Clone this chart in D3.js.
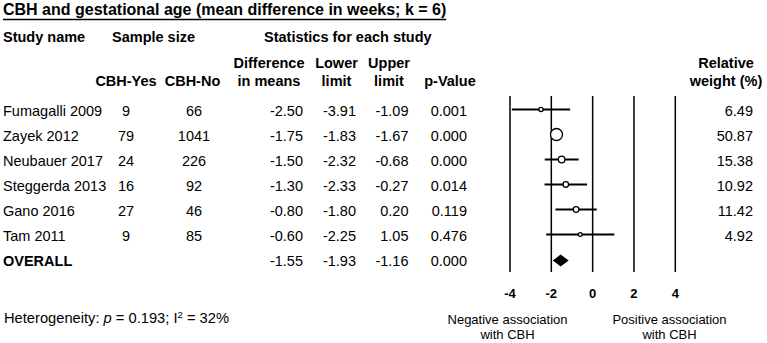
<!DOCTYPE html>
<html>
<head>
<meta charset="utf-8">
<script src="https://cdn.jsdelivr.net/npm/d3@7"></script>
<style>
  body { margin: 0; background: #fff; }
  svg { display: block; font-family: "Liberation Sans", Arial, sans-serif; }
</style>
</head>
<body>
<svg id="chart"></svg>
<script>
const width = 767, height = 343;

// data
const studies = ["Fumagalli 2009", "Zayek 2012", "Neubauer 2017", "Steggerda 2013", "Gano 2016", "Tam 2011"];
const cbhYes = [9, 79, 24, 16, 27, 9];
const cbhNo = [66, 1041, 226, 92, 46, 85];
const diffMeans = [-2.50, -1.75, -1.50, -1.30, -0.80, -0.60];
const lowerLimit = [-3.91, -1.83, -2.32, -2.33, -1.80, -2.25];
const upperLimit = [-1.09, -1.67, -0.68, -0.27, 0.20, 1.05];
const pValues = ["0.001", "0.000", "0.000", "0.014", "0.119", "0.476"];
const relWeight = [6.49, 50.87, 15.38, 10.92, 11.42, 4.92];
const overall = {name: "OVERALL", diff: -1.55, lower: -1.93, upper: -1.16, p: "0.000"};
const axisTicks = [-4, -2, 0, 2, 4];

const rows = studies.map((s, i) => ({
    name: s, yes: cbhYes[i], no: cbhNo[i], diff: diffMeans[i],
    lower: lowerLimit[i], upper: upperLimit[i], p: pValues[i], w: relWeight[i]
}));

const svg = d3.select("#chart")
    .attr("width", width)
    .attr("height", height);

const fs = "14.5px";
const rowY = d3.scaleLinear().domain([0, 1]).range([116, 141]); // baselines
const x = d3.scaleLinear().domain([-4, 4]).range([510, 675.3]);

// column positions
const col = {name: 3, yes: 126, no: 194, diff: 303, lower: 356, upper: 408.5, p: 467, w: 753};

// title
const title = svg.append("text")
    .attr("x", 3).attr("y", 15)
    .attr("font-size", "16px").attr("font-weight", "bold")
    .text("CBH and gestational age (mean difference in weeks; k = 6)");
const tw = title.node().getComputedTextLength();
svg.append("line")
    .attr("x1", 3).attr("x2", 3 + tw)
    .attr("y1", 19.5).attr("y2", 19.5)
    .attr("stroke", "#000").attr("stroke-width", 1.4);

// headers
const hdr = svg.append("g").attr("font-size", fs).attr("font-weight", "bold");
hdr.append("text").attr("x", 3).attr("y", 42).text("Study name");
hdr.append("text").attr("x", 112).attr("y", 42).text("Sample size");
hdr.append("text").attr("x", 264).attr("y", 42).text("Statistics for each study");

const hdr2 = [
    {x: col.yes, l1: "", l2: "CBH-Yes"},
    {x: 192.5, l1: "", l2: "CBH-No"},
    {x: 269, l1: "Difference", l2: "in means"},
    {x: 336.5, l1: "Lower", l2: "limit"},
    {x: 389, l1: "Upper", l2: "limit"},
    {x: 450, l1: "", l2: "p-Value"},
    {x: 726, l1: "Relative", l2: "weight (%)"}
];
hdr2.forEach(h => {
    hdr.append("text").attr("x", h.x).attr("y", 68).attr("text-anchor", "middle").text(h.l1);
    hdr.append("text").attr("x", h.x).attr("y", 86).attr("text-anchor", "middle").text(h.l2);
});

// table body
const body = svg.append("g").attr("font-size", fs);
rows.forEach((d, i) => {
    const y = rowY(i);
    body.append("text").attr("x", col.name).attr("y", y).text(d.name);
    body.append("text").attr("x", col.yes).attr("y", y).attr("text-anchor", "middle").text(d.yes);
    body.append("text").attr("x", col.no).attr("y", y).attr("text-anchor", "middle").text(d.no);
    body.append("text").attr("x", col.diff).attr("y", y).attr("text-anchor", "end").text(d.diff.toFixed(2));
    body.append("text").attr("x", col.lower).attr("y", y).attr("text-anchor", "end").text(d.lower.toFixed(2));
    body.append("text").attr("x", col.upper).attr("y", y).attr("text-anchor", "end").text(d.upper.toFixed(2));
    body.append("text").attr("x", col.p).attr("y", y).attr("text-anchor", "end").text(d.p);
    body.append("text").attr("x", col.w).attr("y", y).attr("text-anchor", "end").text(d.w.toFixed(2));
});
const oy = rowY(rows.length);
body.append("text").attr("x", col.name).attr("y", oy).attr("font-weight", "bold").text(overall.name);
body.append("text").attr("x", col.diff).attr("y", oy).attr("text-anchor", "end").text(overall.diff.toFixed(2));
body.append("text").attr("x", col.lower).attr("y", oy).attr("text-anchor", "end").text(overall.lower.toFixed(2));
body.append("text").attr("x", col.upper).attr("y", oy).attr("text-anchor", "end").text(overall.upper.toFixed(2));
body.append("text").attr("x", col.p).attr("y", oy).attr("text-anchor", "end").text(overall.p);

// forest plot
const plot = svg.append("g");
plot.selectAll(".vline")
    .data(axisTicks)
    .enter().append("line")
    .attr("class", "vline")
    .attr("x1", d => x(d)).attr("x2", d => x(d))
    .attr("y1", 96).attr("y2", 272)
    .attr("stroke", "#000").attr("stroke-width", 1.5);

plot.selectAll(".tick-label")
    .data(axisTicks)
    .enter().append("text")
    .attr("class", "tick-label")
    .attr("x", d => x(d)).attr("y", 298)
    .attr("text-anchor", "middle")
    .attr("font-size", "13px").attr("font-weight", "bold")
    .text(d => d);

const r = d3.scaleSqrt().domain([0, 50.87]).range([0, 6]);

plot.selectAll(".whisker")
    .data(rows)
    .enter().append("line")
    .attr("class", "whisker")
    .attr("x1", d => x(d.lower)).attr("x2", d => x(d.upper))
    .attr("y1", (d, i) => rowY(i) - 6.5).attr("y2", (d, i) => rowY(i) - 6.5)
    .attr("stroke", "#000").attr("stroke-width", 2);

plot.selectAll(".pt")
    .data(rows)
    .enter().append("circle")
    .attr("class", "pt")
    .attr("cx", d => x(d.diff))
    .attr("cy", (d, i) => rowY(i) - 6.5)
    .attr("r", d => r(d.w))
    .attr("fill", "#fff").attr("stroke", "#000").attr("stroke-width", 1.3);

const dy = oy - 5.5;
plot.append("path")
    .attr("d", `M${x(overall.lower)},${dy} L${x(overall.diff)},${dy - 6} L${x(overall.upper)},${dy} L${x(overall.diff)},${dy + 6} Z`)
    .attr("fill", "#000");

// direction labels
const lab = svg.append("g").attr("font-size", "13px").attr("text-anchor", "middle");
lab.append("text").attr("x", 507.5).attr("y", 324).text("Negative association");
lab.append("text").attr("x", 507.5).attr("y", 339).text("with CBH");
lab.append("text").attr("x", 669.5).attr("y", 324).text("Positive association");
lab.append("text").attr("x", 669.5).attr("y", 339).text("with CBH");

// heterogeneity
const het = svg.append("text").attr("x", 4).attr("y", 323).attr("font-size", "14.7px");
het.append("tspan").text("Heterogeneity: ");
het.append("tspan").attr("font-style", "italic").text("p");
het.append("tspan").text(" = 0.193; I");
het.append("tspan").attr("font-size", "9.5px").attr("dy", -5).text("2");
het.append("tspan").attr("dy", 5).text(" = 32%");
</script>
</body>
</html>
